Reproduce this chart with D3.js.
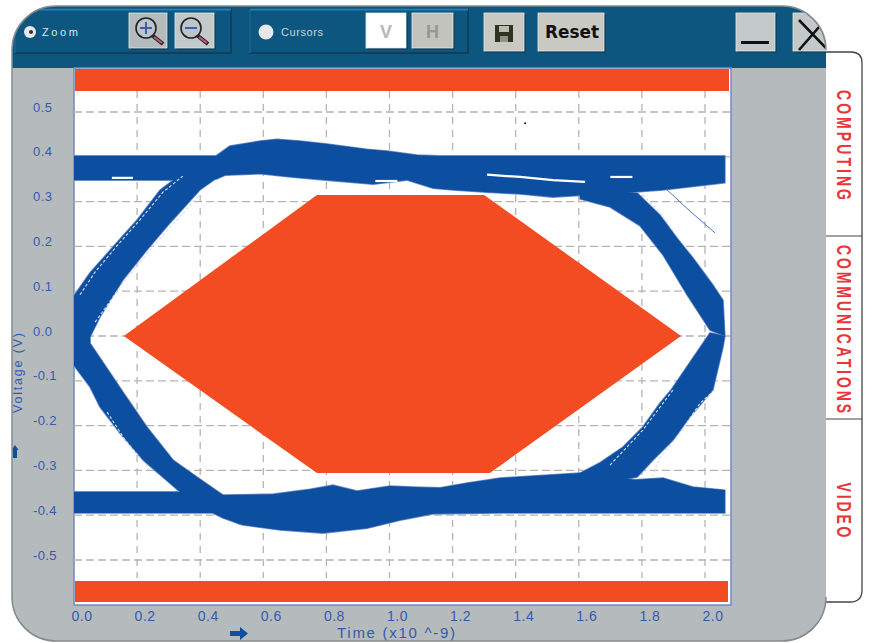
<!DOCTYPE html>
<html>
<head>
<meta charset="utf-8">
<script src="https://d3js.org/d3.v7.min.js"></script>
<style>
html, body { margin: 0; padding: 0; background: #fff; }
svg { display: block; font-family: "Liberation Sans", sans-serif; }
</style>
</head>
<body>
<div id="chart"></div>
<script>
// tick labels as printed on the scope screen
const xTicks = [0, 0.2, 0.4, 0.6, 0.8, 1.0, 1.2, 1.4, 1.6, 1.8, 2.0];
const yTicks = [0.5, 0.4, 0.3, 0.2, 0.1, 0, -0.1, -0.2, -0.3, -0.4, -0.5];
const yLabels = ["0.5", "0.4", "0.3", "0.2", "0.1", "0.0", "-0.1", "-0.2", "-0.3", "-0.4", "-0.5"];
const tabNames = ["COMPUTING", "COMMUNICATIONS", "VIDEO"];

// mask polygon, [time ns, volts]
const maskHexagon = [[0.158, 0], [0.77, 0.315], [1.3, 0.315], [1.924, 0], [1.318, -0.306], [0.77, -0.306]];

// eye diagram outlines, each a closed list of [time, volts]
const railTop = [
  [-0.02, 0.402], [0.45, 0.402], [0.494, 0.424], [0.59, 0.435], [0.643, 0.439], [0.716, 0.435], [0.796, 0.429],
  [0.929, 0.417], [0.992, 0.413], [1.087, 0.404], [1.16, 0.402], [2.063, 0.402], [2.063, 0.342], [1.867, 0.326],
  [1.772, 0.321], [1.518, 0.31], [1.414, 0.317], [1.309, 0.321], [1.201, 0.326], [1.138, 0.33], [1.055, 0.348],
  [0.948, 0.339], [0.796, 0.348], [0.685, 0.355], [0.59, 0.362], [0.479, 0.359], [0.45, 0.35], [0.345, 0.348], [-0.02, 0.348]
];
const railBottom = [
  [-0.02, -0.348], [0.441, -0.348], [0.472, -0.355], [0.631, -0.353], [0.748, -0.342], [0.821, -0.333], [0.897, -0.346],
  [1.002, -0.335], [1.074, -0.337], [1.16, -0.339], [1.246, -0.328], [1.35, -0.317], [1.604, -0.306], [1.778, -0.321],
  [1.867, -0.317], [1.962, -0.337], [2.063, -0.344], [2.063, -0.395], [1.35, -0.395], [1.138, -0.397], [1.033, -0.411],
  [0.929, -0.429], [0.789, -0.44], [0.653, -0.433], [0.536, -0.422], [0.472, -0.406], [0.441, -0.395], [-0.02, -0.395]
];
const riseLeft = [
  [-0.02, 0.07], [0.051, 0.141], [0.124, 0.199], [0.2, 0.259], [0.273, 0.326], [0.345, 0.364], [0.45, 0.39], [0.453, 0.353],
  [0.399, 0.326], [0.304, 0.252], [0.231, 0.192], [0.155, 0.125], [0.082, 0.042], [0.051, -0.002], [-0.02, -0.03]
];
const fallLeft = [
  [-0.02, 0.02], [0.051, -0.002], [0.051, -0.016], [0.155, -0.125], [0.231, -0.203], [0.314, -0.277], [0.39, -0.315],
  [0.472, -0.355], [0.526, -0.42], [0.441, -0.395], [0.336, -0.348], [0.219, -0.277], [0.146, -0.217], [0.082, -0.158],
  [0.051, -0.114], [-0.02, -0.047]
];
const fallRight = [
  [1.604, 0.33], [1.785, 0.319], [1.857, 0.27], [1.911, 0.219], [1.962, 0.174], [2.025, 0.114], [2.057, 0.08], [2.063, 0],
  [2.016, 0.013], [1.943, 0.092], [1.867, 0.181], [1.794, 0.246], [1.699, 0.288], [1.604, 0.306]
];
const riseRight = [
  [1.604, -0.306], [1.667, -0.283], [1.74, -0.248], [1.803, -0.203], [1.857, -0.15], [1.893, -0.12], [2.016, 0.007],
  [2.063, 0], [2.057, -0.025], [2.025, -0.12], [2.006, -0.136], [1.952, -0.181], [1.899, -0.232], [1.835, -0.277],
  [1.785, -0.315], [1.6, -0.34]
];
const eyeBands = [railTop, railBottom, riseLeft, fallLeft, fallRight, riseRight];

// white gaps left between traces inside the bands
const slits = [
  [[1.309, 0.36], [1.414, 0.355], [1.518, 0.348], [1.62, 0.344]],
  [[1.7, 0.355], [1.77, 0.355]],
  [[0.955, 0.346], [1.025, 0.346]],
  [[0.12, 0.353], [0.187, 0.353]]
];
const laceTraces = [
  [[0.019, 0.092], [0.067, 0.143], [0.136, 0.201], [0.209, 0.259], [0.282, 0.321], [0.345, 0.357]],
  [[0.067, 0.031], [0.162, 0.125], [0.241, 0.192], [0.311, 0.248], [0.399, 0.315]],
  [[1.699, -0.288], [1.803, -0.21], [1.899, -0.12]],
  [[1.832, -0.315], [1.857, -0.272], [1.921, -0.217], [1.984, -0.15], [2.032, -0.12]],
  [[1.803, 0.315], [1.857, 0.275], [1.899, 0.237]],
  [[0.105, -0.17], [0.162, -0.232], [0.241, -0.299]]
];

// one stray trace on the upper right, and the stray dot
const strayTrace = [[1.88, 0.326], [1.952, 0.279], [2.032, 0.23]];
const strayDot = [1.43, 0.475];

const width = 872, height = 643;
const plot = { left: 74, right: 731, top: 68, bottom: 605 };

const svg = d3.select("#chart").append("svg")
  .attr("width", width).attr("height", height);

// tabs behind the panel
const tabs = svg.append("g");
tabs.append("path")
  .attr("d", "M820,52 H851 Q862,52 862,63 V590 Q862,602 850,602 H820 Z")
  .attr("fill", "#fff").attr("stroke", "#444").attr("stroke-width", 1.3);
[236, 419].forEach(y => tabs.append("line")
  .attr("x1", 826).attr("x2", 862).attr("y1", y).attr("y2", y)
  .attr("stroke", "#444").attr("stroke-width", 1.2));

const tabCenters = [145, 329, 510];
const tabLengths = [110, 168, 55];
tabNames.forEach((name, i) => {
  tabs.append("text")
    .attr("transform", `translate(837, ${tabCenters[i]}) rotate(90) scale(1, 1.5)`)
    .attr("text-anchor", "middle")
    .attr("textLength", tabLengths[i]).attr("lengthAdjust", "spacing")
    .attr("font-family", "'Liberation Sans Narrow', 'Liberation Sans', sans-serif")
    .attr("font-size", 14).attr("font-weight", "bold").attr("fill", "#e8363a")
    .text(name);
});

// rounded outer panel
const panelPath = "M12,50 A44,44 0 0 1 56,6 H782 A44,44 0 0 1 826,50 V597 A44,44 0 0 1 782,641 H56 A44,44 0 0 1 12,597 Z";
svg.append("path").attr("d", panelPath).attr("fill", "#b5bbbc");

const defs = svg.append("defs");
defs.append("clipPath").attr("id", "panel-clip").append("path").attr("d", panelPath);
defs.append("clipPath").attr("id", "plot-clip").append("rect")
  .attr("x", plot.left).attr("y", plot.top).attr("width", plot.right - plot.left).attr("height", plot.bottom - plot.top);

// toolbar
const bar = svg.append("g").attr("clip-path", "url(#panel-clip)");
bar.append("rect").attr("x", 12).attr("y", 6).attr("width", 814).attr("height", 62).attr("fill", "#0d5680");

function groupBox(x, w) {
  bar.append("rect").attr("x", x).attr("y", 9).attr("width", w).attr("height", 44)
    .attr("fill", "#0d5680").attr("stroke", "#0f3f5d").attr("stroke-width", 2);
  bar.append("line").attr("x1", x).attr("x2", x + w).attr("y1", 9.5).attr("y2", 9.5)
    .attr("stroke", "#1a82bd").attr("stroke-width", 2);
  bar.append("line").attr("x1", x).attr("x2", x).attr("y1", 9).attr("y2", 53)
    .attr("stroke", "#1a82bd").attr("stroke-width", 1);
}
groupBox(15, 216);
groupBox(250, 218);

function button(x, y, w, h, fill) {
  bar.append("rect").attr("x", x + 1.5).attr("y", y + 1.5).attr("width", w).attr("height", h).attr("fill", "#10324a");
  bar.append("rect").attr("x", x).attr("y", y).attr("width", w).attr("height", h).attr("fill", fill)
    .attr("stroke", "#e6e9e9").attr("stroke-width", 0.8);
}
function magnifier(cx, sign) {
  const g = bar.append("g");
  g.append("line").attr("x1", cx + 7).attr("y1", 36).attr("x2", cx + 17).attr("y2", 44)
    .attr("stroke", "#222").attr("stroke-width", 4);
  g.append("line").attr("x1", cx + 8).attr("y1", 37).attr("x2", cx + 16).attr("y2", 43)
    .attr("stroke", "#c9567a").attr("stroke-width", 2);
  g.append("circle").attr("cx", cx).attr("cy", 28).attr("r", 10)
    .attr("fill", "#bcc6ca").attr("stroke", "#222").attr("stroke-width", 1.6);
  g.append("line").attr("x1", cx - 6).attr("x2", cx + 6).attr("y1", 28).attr("y2", 28)
    .attr("stroke", "#3a5fb0").attr("stroke-width", 2);
  if (sign === "+") {
    g.append("line").attr("x1", cx).attr("x2", cx).attr("y1", 22).attr("y2", 34)
      .attr("stroke", "#3a5fb0").attr("stroke-width", 2);
  }
}
button(129, 13, 38, 35, "#b3bbbd");
magnifier(146, "+");
button(175, 13, 39, 35, "#c3c8c9");
magnifier(191, "-");

bar.append("circle").attr("cx", 30).attr("cy", 32).attr("r", 6).attr("fill", "#e6e9e9");
bar.append("circle").attr("cx", 31).attr("cy", 32).attr("r", 2).attr("fill", "#333");
bar.append("circle").attr("cx", 266).attr("cy", 32).attr("r", 7.5).attr("fill", "#e6e9e9");
bar.append("text").attr("x", 42).attr("y", 36).attr("font-size", 11).attr("textLength", 36)
  .attr("fill", "#dfe5e8").text("Zoom");
bar.append("text").attr("x", 281).attr("y", 36).attr("font-size", 11).attr("textLength", 42)
  .attr("fill", "#c9d4da").text("Cursors");

button(366, 13, 40, 35, "#fff");
bar.append("text").attr("x", 386).attr("y", 38).attr("text-anchor", "middle").attr("font-size", 18)
  .attr("font-weight", "bold").attr("fill", "#b4b8b8").text("V");
button(412, 13, 41, 35, "#c2c3bd");
bar.append("text").attr("x", 432.5).attr("y", 38).attr("text-anchor", "middle").attr("font-size", 18)
  .attr("font-weight", "bold").attr("fill", "#94989a").text("H");

button(484, 13, 40, 38, "#c8c9c3");
// floppy icon
bar.append("rect").attr("x", 495).attr("y", 25).attr("width", 18).attr("height", 17).attr("fill", "#2f3324");
bar.append("rect").attr("x", 499).attr("y", 26).attr("width", 10).attr("height", 6).attr("fill", "#b9bdb0");
bar.append("rect").attr("x", 500).attr("y", 36).attr("width", 8).attr("height", 6).attr("fill", "#8f9383");

button(538, 13, 66, 38, "#c8c9c3");
bar.append("text").attr("x", 545).attr("y", 38).attr("font-size", 17)
  .attr("font-weight", "bold").attr("font-family", "'DejaVu Sans', sans-serif").attr("textLength", 54)
  .attr("lengthAdjust", "spacingAndGlyphs").attr("fill", "#111").text("Reset");

button(736, 13, 39, 38, "#c3c8c9");
bar.append("rect").attr("x", 741).attr("y", 41).attr("width", 28).attr("height", 3).attr("fill", "#111");
button(793, 13, 40, 38, "#c3c8c9");
bar.append("path").attr("d", "M799,20 L826,48 M826,19 L799,50").attr("stroke", "#111").attr("stroke-width", 2.6).attr("fill", "none");

// scales, gridline for 0.0 sits on the plot's left border
const x = d3.scaleLinear().domain([0, 2]).range([74, 705]);
const y = d3.scaleLinear().domain([-0.5, 0.5]).range([560, 112]);

const plotG = svg.append("g");
plotG.append("rect").attr("x", plot.left).attr("y", plot.top)
  .attr("width", plot.right - plot.left).attr("height", plot.bottom - plot.top)
  .attr("fill", "#fff").attr("stroke", "#7587c2").attr("stroke-width", 1.5);

// grid
plotG.selectAll(".gx").data(xTicks.slice(1)).enter().append("line")
  .attr("x1", d => x(d)).attr("x2", d => x(d))
  .attr("y1", 91).attr("y2", 578)
  .attr("stroke", "#b4b4b4").attr("stroke-width", 1.3).attr("stroke-dasharray", "7 6");
plotG.selectAll(".gy").data(yTicks).enter().append("line")
  .attr("x1", plot.left).attr("x2", plot.right)
  .attr("y1", d => y(d)).attr("y2", d => y(d))
  .attr("stroke", "#b4b4b4").attr("stroke-width", 1.3).attr("stroke-dasharray", "8 4");

// eye bands: outlines underneath so overlaps stay solid
const blue = "#0c4ea0";
const outline = d3.line().x(d => x(d[0])).y(d => y(d[1])).curve(d3.curveLinearClosed);
const line = d3.line().x(d => x(d[0])).y(d => y(d[1]));
const eye = plotG.append("g").attr("clip-path", "url(#plot-clip)");
eye.selectAll(".edge").data(eyeBands).enter().append("path")
  .attr("d", outline).attr("fill", "none").attr("stroke", "#6f8dc6").attr("stroke-width", 1.6);
eye.selectAll(".band").data(eyeBands).enter().append("path")
  .attr("d", outline).attr("fill", blue);

eye.selectAll(".slit").data(slits).enter().append("path")
  .attr("d", line).attr("fill", "none").attr("stroke", "#fff").attr("stroke-width", 2.2);
eye.selectAll(".lace").data(laceTraces).enter().append("path")
  .attr("d", line).attr("fill", "none").attr("stroke", "#d5def0").attr("stroke-width", 1.1).attr("stroke-dasharray", "3 2");

eye.append("path").attr("d", line(strayTrace)).attr("fill", "none").attr("stroke", "#4f74b8").attr("stroke-width", 1);
eye.append("circle").attr("cx", x(strayDot[0])).attr("cy", y(strayDot[1])).attr("r", 1).attr("fill", "#111");

// red mask
const maskColor = "#f34c23";
plotG.append("path").attr("d", line(maskHexagon) + "Z").attr("fill", maskColor);
plotG.append("rect").attr("x", 75).attr("width", 654).attr("y", 69).attr("height", 22).attr("fill", maskColor);
plotG.append("rect").attr("x", 75).attr("width", 653).attr("y", 581).attr("height", 21).attr("fill", maskColor);

// tick labels
const tickColor = "#345ab0";
svg.selectAll(".yl").data(yTicks).enter().append("text")
  .attr("x", 33).attr("y", d => y(d) - 0.5)
  .attr("font-size", 13).attr("letter-spacing", 0.4).attr("fill", tickColor)
  .text((d, i) => yLabels[i]);
svg.selectAll(".xl").data(xTicks).enter().append("text")
  .attr("x", d => x(d) + 8).attr("y", 621)
  .attr("text-anchor", "middle").attr("font-size", 14).attr("letter-spacing", 0.5).attr("fill", tickColor)
  .text(d => d.toFixed(1));

// axis titles and arrows
svg.append("text").attr("x", 337).attr("y", 638).attr("textLength", 118)
  .attr("font-size", 15).attr("fill", tickColor).text("Time (x10 ^-9)");
svg.append("text").attr("transform", "translate(22, 373) rotate(-90)").attr("text-anchor", "middle")
  .attr("textLength", 80).attr("font-size", 12.5).attr("fill", tickColor).text("Voltage (V)");
svg.append("path").attr("d", "M230,631 H240 V627 L248,633.5 L240,640 V636 H230 Z").attr("fill", "#0f4fa0");
svg.append("path").attr("d", "M13,458 V450 H11.5 L15,445 L18.5,450 H17 V458 Z").attr("fill", "#0f4fa0");

// panel edge on top
svg.append("path").attr("d", "M826,50 A44,44 0 0 0 782,6 H56 A44,44 0 0 0 12,50 V597 A44,44 0 0 0 56,641 H782 A44,44 0 0 0 826,597")
  .attr("fill", "none").attr("stroke", "#858a8c").attr("stroke-width", 1.5);
</script>
</body>
</html>
